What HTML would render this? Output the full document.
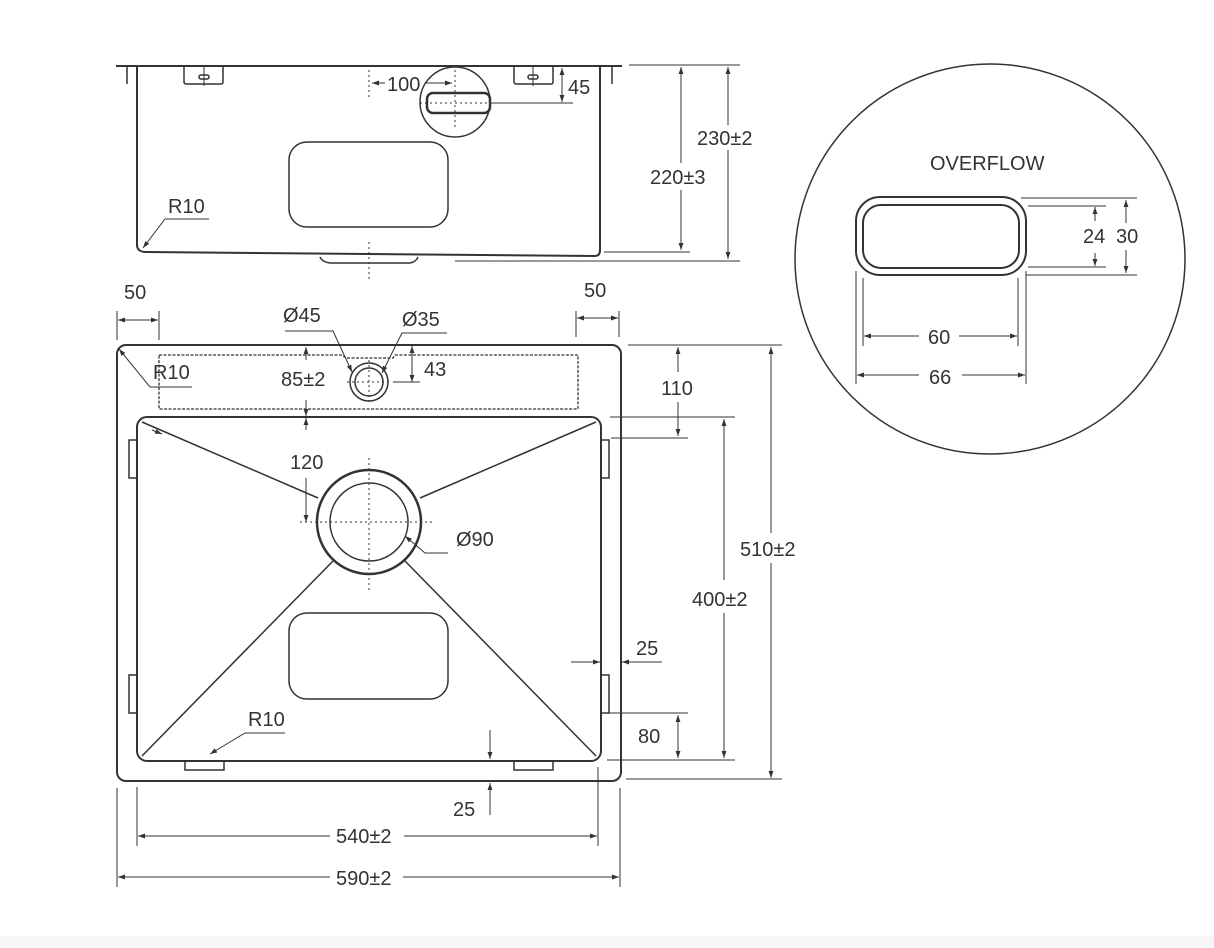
<!DOCTYPE html>
<html><head><meta charset="utf-8"><style>
html,body{margin:0;padding:0;background:#fff}
svg{display:block}
text{font-family:"Liberation Sans",sans-serif;font-size:20px;fill:#333}
</style></head><body>
<svg width="1214" height="948" viewBox="0 0 1214 948" xmlns="http://www.w3.org/2000/svg">
<defs>
<marker id="a" viewBox="0 0 10 10" refX="10" refY="5" markerWidth="7" markerHeight="7" orient="auto-start-reverse"><path d="M0,1.5 L10,5 L0,8.5z" fill="#333"/></marker>
</defs>
<rect x="0" y="936" width="1214" height="12" fill="#f6f6f6"/>
<g fill="none" stroke="#333" stroke-width="1.5">
<!-- TOP VIEW -->
<line x1="116" y1="66" x2="622" y2="66" stroke-width="2"/>
<line x1="127" y1="66" x2="127" y2="84"/><line x1="612" y1="66" x2="612" y2="84"/>
<path d="M137,66 L137,246 Q138,252 146,252 L595,256 Q600,256 600,250 L600,66" stroke-width="2"/>
<path d="M320,257 Q322,262 330,263 L410,263 Q416,262 418,257"/>
<path d="M184,66 L184,82 Q184,84 187,84 L221,84 Q223,84 223,82 L223,66"/>
<path d="M514,66 L514,82 Q514,84 517,84 L551,84 Q553,84 553,82 L553,66"/>
<rect x="199" y="75" width="10" height="4" rx="2"/><rect x="528" y="75" width="10" height="4" rx="2"/>
<line x1="204" y1="66" x2="204" y2="86" stroke-width="1"/><line x1="533" y1="66" x2="533" y2="86" stroke-width="1"/>
<rect x="289" y="142" width="159" height="85" rx="18"/>
<circle cx="455" cy="102" r="35"/>
<rect x="427" y="93" width="63" height="20" rx="6" stroke-width="2.5"/>
<line x1="369" y1="70" x2="369" y2="100" stroke-dasharray="2,3" stroke-width="1"/>
<line x1="369" y1="242" x2="369" y2="282" stroke-dasharray="2,3" stroke-width="1"/>
<line x1="455" y1="70" x2="455" y2="130" stroke-dasharray="2,3" stroke-width="1"/>
<line x1="420" y1="103" x2="492" y2="103" stroke-dasharray="2,3" stroke-width="1"/>
<line x1="490" y1="103" x2="573" y2="103" stroke-width="1"/>
<line x1="372" y1="83" x2="385" y2="83" stroke-width="1" marker-start="url(#a)"/>
<line x1="426" y1="83" x2="452" y2="83" stroke-width="1" marker-end="url(#a)"/>
<line x1="562" y1="68" x2="562" y2="102" stroke-width="1" marker-start="url(#a)" marker-end="url(#a)"/>
<path d="M209,219 L165,219 L143,248" stroke-width="1" marker-end="url(#a)"/>
<line x1="629" y1="65" x2="740" y2="65" stroke-width="1"/>
<line x1="604" y1="252" x2="690" y2="252" stroke-width="1"/>
<line x1="455" y1="261" x2="740" y2="261" stroke-width="1"/>
<line x1="728" y1="67" x2="728" y2="125" stroke-width="1" marker-start="url(#a)"/>
<line x1="728" y1="150" x2="728" y2="259" stroke-width="1" marker-end="url(#a)"/>
<line x1="681" y1="67" x2="681" y2="163" stroke-width="1" marker-start="url(#a)"/>
<line x1="681" y1="190" x2="681" y2="250" stroke-width="1" marker-end="url(#a)"/>
<!-- BOTTOM VIEW -->
<rect x="117" y="345" width="504" height="436" rx="9" stroke-width="2"/>
<rect x="137" y="417" width="464" height="344" rx="10" stroke-width="2"/>
<path d="M159,355 L342,355 L346,358 L393,358 L395,355 L578,355 L578,409 L159,409 Z" stroke-dasharray="3,1.5" stroke-width="1.3"/>
<circle cx="369" cy="382" r="19"/><circle cx="369" cy="382" r="14"/>
<line x1="369" y1="360" x2="369" y2="404" stroke-dasharray="2,3" stroke-width="1"/>
<line x1="347" y1="382" x2="391" y2="382" stroke-dasharray="2,3" stroke-width="1"/>
<circle cx="369" cy="522" r="52" stroke-width="2.5"/><circle cx="369" cy="522" r="39"/>
<line x1="369" y1="458" x2="369" y2="590" stroke-dasharray="2,3" stroke-width="1"/>
<line x1="300" y1="522" x2="435" y2="522" stroke-dasharray="2,3" stroke-width="1"/>
<line x1="142" y1="422" x2="318" y2="498"/>
<line x1="596" y1="422" x2="420" y2="498"/>
<line x1="142" y1="756" x2="333" y2="561"/>
<line x1="596" y1="756" x2="405" y2="561"/>
<rect x="289" y="613" width="159" height="86" rx="18"/>
<rect x="129" y="440" width="8" height="38"/><rect x="129" y="675" width="8" height="38"/>
<rect x="601" y="440" width="8" height="38"/><rect x="601" y="675" width="8" height="38"/>
<rect x="185" y="761" width="39" height="9"/><rect x="514" y="761" width="39" height="9"/>
<line x1="152" y1="430" x2="162" y2="434" stroke-width="1" marker-end="url(#a)"/>
<!-- dims -->
<line x1="117" y1="311" x2="117" y2="340" stroke-width="1"/><line x1="159" y1="311" x2="159" y2="340" stroke-width="1"/>
<line x1="118" y1="320" x2="158" y2="320" stroke-width="1" marker-start="url(#a)" marker-end="url(#a)"/>
<line x1="576" y1="311" x2="576" y2="337" stroke-width="1"/><line x1="619" y1="311" x2="619" y2="337" stroke-width="1"/>
<line x1="577" y1="318" x2="618" y2="318" stroke-width="1" marker-start="url(#a)" marker-end="url(#a)"/>
<path d="M285,331 L333,331 L352,372" stroke-width="1" marker-end="url(#a)"/>
<path d="M447,333 L402,333 L382,373" stroke-width="1" marker-end="url(#a)"/>
<line x1="306" y1="360" x2="306" y2="347" stroke-width="1" marker-end="url(#a)"/>
<line x1="306" y1="400" x2="306" y2="416" stroke-width="1" marker-end="url(#a)"/>
<line x1="306" y1="418" x2="306" y2="430" stroke-width="1" marker-start="url(#a)"/>
<line x1="306" y1="478" x2="306" y2="522" stroke-width="1" marker-end="url(#a)"/>
<line x1="412" y1="346" x2="412" y2="382" stroke-width="1" marker-start="url(#a)" marker-end="url(#a)"/>
<line x1="393" y1="382" x2="420" y2="382" stroke-width="1"/>
<path d="M192,387 L150,387 L119,349" stroke-width="1" marker-end="url(#a)"/>
<path d="M448,553 L425,553 L405,536" stroke-width="1" marker-end="url(#a)"/>
<path d="M285,733 L245,733 L210,754" stroke-width="1" marker-end="url(#a)"/>
<!-- right dims -->
<line x1="628" y1="345" x2="782" y2="345" stroke-width="1"/>
<line x1="610" y1="417" x2="735" y2="417" stroke-width="1"/>
<line x1="611" y1="438" x2="688" y2="438" stroke-width="1"/>
<line x1="678" y1="347" x2="678" y2="372" stroke-width="1" marker-start="url(#a)"/>
<line x1="678" y1="402" x2="678" y2="436" stroke-width="1" marker-end="url(#a)"/>
<line x1="724" y1="419" x2="724" y2="580" stroke-width="1" marker-start="url(#a)"/>
<line x1="724" y1="613" x2="724" y2="758" stroke-width="1" marker-end="url(#a)"/>
<line x1="771" y1="347" x2="771" y2="533" stroke-width="1" marker-start="url(#a)"/>
<line x1="771" y1="563" x2="771" y2="778" stroke-width="1" marker-end="url(#a)"/>
<line x1="608" y1="713" x2="688" y2="713" stroke-width="1"/>
<line x1="607" y1="760" x2="735" y2="760" stroke-width="1"/>
<line x1="626" y1="779" x2="782" y2="779" stroke-width="1"/>
<line x1="678" y1="715" x2="678" y2="758" stroke-width="1" marker-start="url(#a)" marker-end="url(#a)"/>
<line x1="571" y1="662" x2="600" y2="662" stroke-width="1" marker-end="url(#a)"/>
<line x1="662" y1="662" x2="622" y2="662" stroke-width="1" marker-end="url(#a)"/>
<line x1="490" y1="730" x2="490" y2="759" stroke-width="1" marker-end="url(#a)"/>
<line x1="490" y1="815" x2="490" y2="783" stroke-width="1" marker-end="url(#a)"/>
<line x1="137" y1="787" x2="137" y2="846" stroke-width="1"/><line x1="598" y1="767" x2="598" y2="846" stroke-width="1"/>
<line x1="117" y1="788" x2="117" y2="887" stroke-width="1"/><line x1="620" y1="788" x2="620" y2="887" stroke-width="1"/>
<line x1="138" y1="836" x2="330" y2="836" stroke-width="1" marker-start="url(#a)"/>
<line x1="404" y1="836" x2="597" y2="836" stroke-width="1" marker-end="url(#a)"/>
<line x1="118" y1="877" x2="330" y2="877" stroke-width="1" marker-start="url(#a)"/>
<line x1="403" y1="877" x2="619" y2="877" stroke-width="1" marker-end="url(#a)"/>
<!-- overflow detail -->
<circle cx="990" cy="259" r="195"/>
<rect x="856" y="197" width="170" height="78" rx="24" stroke-width="2"/>
<rect x="863" y="205" width="156" height="63" rx="18" stroke-width="2"/>
<line x1="1021" y1="198" x2="1137" y2="198" stroke-width="1"/>
<line x1="1028" y1="206" x2="1106" y2="206" stroke-width="1"/>
<line x1="1028" y1="267" x2="1106" y2="267" stroke-width="1"/>
<line x1="1026" y1="275" x2="1137" y2="275" stroke-width="1"/>
<line x1="1095" y1="221" x2="1095" y2="207" stroke-width="1" marker-end="url(#a)"/>
<line x1="1095" y1="253" x2="1095" y2="266" stroke-width="1" marker-end="url(#a)"/>
<line x1="1126" y1="200" x2="1126" y2="223" stroke-width="1" marker-start="url(#a)"/>
<line x1="1126" y1="250" x2="1126" y2="273" stroke-width="1" marker-end="url(#a)"/>
<line x1="856" y1="271" x2="856" y2="384" stroke-width="1"/><line x1="863" y1="278" x2="863" y2="346" stroke-width="1"/>
<line x1="1018" y1="278" x2="1018" y2="346" stroke-width="1"/><line x1="1026" y1="271" x2="1026" y2="384" stroke-width="1"/>
<line x1="864" y1="336" x2="919" y2="336" stroke-width="1" marker-start="url(#a)"/>
<line x1="959" y1="336" x2="1017" y2="336" stroke-width="1" marker-end="url(#a)"/>
<line x1="857" y1="375" x2="919" y2="375" stroke-width="1" marker-start="url(#a)"/>
<line x1="962" y1="375" x2="1025" y2="375" stroke-width="1" marker-end="url(#a)"/>
</g>
<text x="387" y="91">100</text>
<text x="568" y="94">45</text>
<text x="697" y="145">230±2</text>
<text x="650" y="184">220±3</text>
<text x="168" y="213">R10</text>
<text x="124" y="299">50</text>
<text x="584" y="297">50</text>
<text x="283" y="322">Ø45</text>
<text x="402" y="326">Ø35</text>
<text x="153" y="379">R10</text>
<text x="281" y="386">85±2</text>
<text x="424" y="376">43</text>
<text x="661" y="395">110</text>
<text x="290" y="469">120</text>
<text x="456" y="546">Ø90</text>
<text x="740" y="556">510±2</text>
<text x="692" y="606">400±2</text>
<text x="636" y="655">25</text>
<text x="248" y="726">R10</text>
<text x="638" y="743">80</text>
<text x="453" y="816">25</text>
<text x="336" y="843">540±2</text>
<text x="336" y="885">590±2</text>
<text x="930" y="170">OVERFLOW</text>
<text x="1083" y="243">24</text>
<text x="1116" y="243">30</text>
<text x="928" y="344">60</text>
<text x="929" y="384">66</text>
</svg>
</body></html>
